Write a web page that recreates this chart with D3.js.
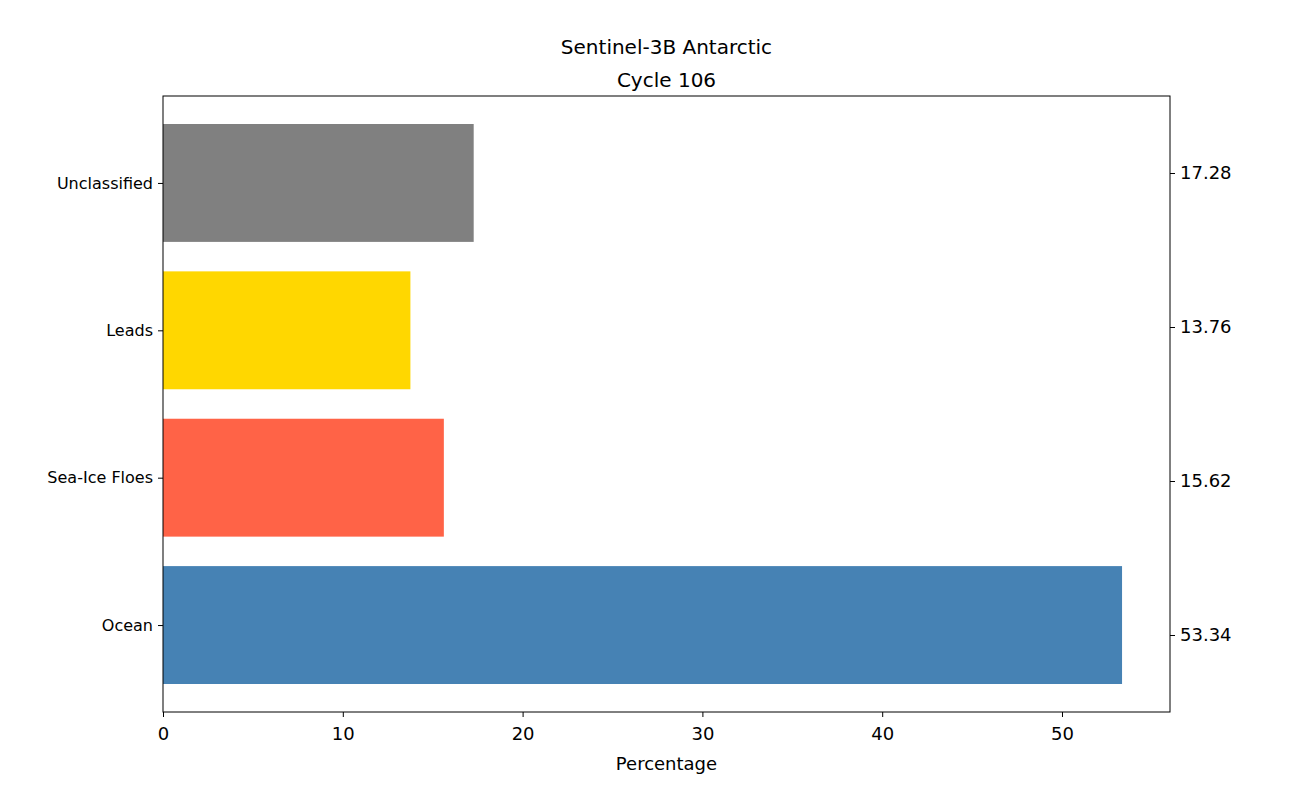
<!DOCTYPE html>
<html><head><meta charset="utf-8">
<script src="https://cdn.jsdelivr.net/npm/d3@7"></script>
<style>body{margin:0;background:#fff}text{font-family:"DejaVu Sans",sans-serif;fill:#000}</style>
</head><body><svg id="c" width="1300" height="800"></svg>
<script>
const categories=["Ocean","Sea-Ice Floes","Leads","Unclassified"];
const values=[53.34,15.62,13.76,17.28];
const colors=["#4682B4","#FF6347","#FFD700","#808080"];
const xTicks=[0,10,20,30,40,50];
const L=163,R=1170,T=96,B=712;
const svg=d3.select("#c");
const x=d3.scaleLinear().domain([0,53.34*1.05]).range([L,R]);
const y=d3.scaleLinear().domain([-0.59,3.59]).range([B,T]);
const y2=d3.scaleLinear().domain([-0.5,3.5]).range([B,T]);
svg.selectAll("rect.bar").data(values).enter().append("rect")
 .attr("x",x(0)).attr("y",(d,i)=>y(i+0.4)).attr("width",d=>x(d)-x(0))
 .attr("height",(d,i)=>y(i-0.4)-y(i+0.4)).attr("fill",(d,i)=>colors[i]);
const xa=svg.append("g").attr("transform",`translate(0,${B})`).call(d3.axisBottom(x).tickValues(xTicks).tickFormat(d3.format("d")).tickSizeOuter(0).tickSize(5));
xa.selectAll("text").attr("font-size",18).attr("dy","1.1em");
const ya=svg.append("g").attr("transform",`translate(${L},0)`).call(d3.axisLeft(y).tickValues([0,1,2,3]).tickFormat(i=>categories[i]).tickSizeOuter(0).tickSize(5));
ya.selectAll("text").attr("font-size",16).attr("dx","-2");
const ya2=svg.append("g").attr("transform",`translate(${R},0)`).call(d3.axisRight(y2).tickValues([0,1,2,3]).tickFormat(i=>values[i].toFixed(2)).tickSizeOuter(0).tickSize(5));
ya2.selectAll("text").attr("font-size",18).attr("dx","2");
svg.selectAll(".domain").remove();
svg.append("rect").attr("x",L).attr("y",T).attr("width",R-L).attr("height",B-T).attr("fill","none").attr("stroke","#000").attr("stroke-width",1);
svg.append("text").attr("x",(L+R)/2).attr("y",54).attr("text-anchor","middle").attr("font-size",20).text("Sentinel-3B Antarctic");
svg.append("text").attr("x",(L+R)/2).attr("y",87).attr("text-anchor","middle").attr("font-size",20).text("Cycle 106");
svg.append("text").attr("x",(L+R)/2).attr("y",770).attr("text-anchor","middle").attr("font-size",18).text("Percentage");
</script></body></html>
